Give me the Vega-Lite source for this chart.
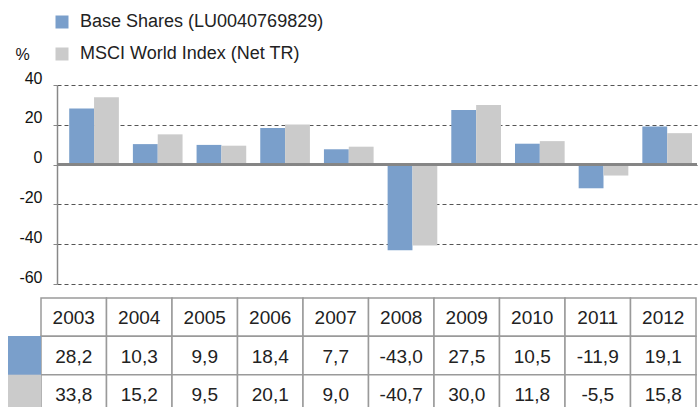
{
  "$schema": "https://vega.github.io/schema/vega-lite/v6.json",
  "width": 640,
  "height": 199,
  "autosize": "none",
  "padding": {"left": 57, "top": 85, "right": 2, "bottom": 123},
  "background": "white",
  "config": {
    "font": "Liberation Sans",
    "view": {"stroke": null},
    "locale": {"number": {"decimal": ",", "thousands": ".", "grouping": [3], "currency": ["", ""], "minus": "-"}},
    "axisY": {
      "titleAngle": 0, "titleX": -35, "titleY": -31, "titleAlign": "center", "titleBaseline": "middle",
      "titleFontSize": 16, "titleFontWeight": "normal", "titleColor": "#111",
      "labelFontSize": 16, "labelColor": "#111", "labelPadding": 11, "labelOffset": -7, "labelOverlap": false,
      "domainColor": "#888", "domainWidth": 1.5, "tickColor": "#888", "tickSize": 4, "tickWidth": 1,
      "gridColor": "#555", "gridDash": [4, 3], "gridWidth": 1
    }
  },
  "datasets": {
    "perf": [
      {"year": "2003", "series": "Base Shares (LU0040769829)", "value": 28.2},
      {"year": "2003", "series": "MSCI World Index (Net TR)", "value": 33.8},
      {"year": "2004", "series": "Base Shares (LU0040769829)", "value": 10.3},
      {"year": "2004", "series": "MSCI World Index (Net TR)", "value": 15.2},
      {"year": "2005", "series": "Base Shares (LU0040769829)", "value": 9.9},
      {"year": "2005", "series": "MSCI World Index (Net TR)", "value": 9.5},
      {"year": "2006", "series": "Base Shares (LU0040769829)", "value": 18.4},
      {"year": "2006", "series": "MSCI World Index (Net TR)", "value": 20.1},
      {"year": "2007", "series": "Base Shares (LU0040769829)", "value": 7.7},
      {"year": "2007", "series": "MSCI World Index (Net TR)", "value": 9.0},
      {"year": "2008", "series": "Base Shares (LU0040769829)", "value": -43.0},
      {"year": "2008", "series": "MSCI World Index (Net TR)", "value": -40.7},
      {"year": "2009", "series": "Base Shares (LU0040769829)", "value": 27.5},
      {"year": "2009", "series": "MSCI World Index (Net TR)", "value": 30.0},
      {"year": "2010", "series": "Base Shares (LU0040769829)", "value": 10.5},
      {"year": "2010", "series": "MSCI World Index (Net TR)", "value": 11.8},
      {"year": "2011", "series": "Base Shares (LU0040769829)", "value": -11.9},
      {"year": "2011", "series": "MSCI World Index (Net TR)", "value": -5.5},
      {"year": "2012", "series": "Base Shares (LU0040769829)", "value": 19.1},
      {"year": "2012", "series": "MSCI World Index (Net TR)", "value": 15.8}
    ]
  },
  "data": {"name": "perf"},
  "layer": [
    {
      "layer": [
        {
          "mark": {"type": "bar"},
          "encoding": {
            "x": {"field": "year", "type": "ordinal", "scale": {"paddingInner": 0.22, "paddingOuter": 0.135, "align": 0.71}, "axis": null},
            "xOffset": {"field": "series", "type": "nominal", "scale": {"domain": ["Base Shares (LU0040769829)", "MSCI World Index (Net TR)"], "paddingInner": 0, "paddingOuter": 0}},
            "y": {
              "field": "value", "type": "quantitative",
              "scale": {"domain": [-60, 40], "nice": false, "zero": false},
              "axis": {"title": "%", "values": [-60, -40, -20, 0, 20, 40], "format": "d", "grid": true}
            },
            "color": {
              "field": "series", "type": "nominal",
              "scale": {"domain": ["Base Shares (LU0040769829)", "MSCI World Index (Net TR)"], "range": ["#7A9FCB", "#CBCBCB"]},
              "legend": {
                "orient": "none", "legendX": -4, "legendY": -72, "title": null, "padding": 0,
                "symbolType": "square", "symbolSize": 169, "symbolStrokeWidth": 0, "symbolOpacity": 1,
                "labelFontSize": 18, "labelColor": "#222", "labelOffset": 9, "rowPadding": 14, "labelLimit": 400
              }
            }
          }
        },
        {
          "mark": {"type": "rule", "color": "#858585", "strokeWidth": 2},
          "encoding": {"y": {"datum": 0, "type": "quantitative", "axis": {"title": "%", "values": [-60, -40, -20, 0, 20, 40], "format": "d", "grid": true}}}
        }
      ]
    },
    {
      "layer": [
        {
          "transform": [{"filter": "datum.series === 'MSCI World Index (Net TR)'"}],
          "mark": {"type": "rect", "fill": "white", "stroke": "#9A9A9A", "strokeWidth": 1.5},
          "encoding": {
            "x": {"field": "year", "type": "ordinal", "scale": {"range": [-16, 639], "paddingInner": 0, "paddingOuter": 0}, "axis": null},
            "y": {"datum": "hdr", "type": "nominal", "scale": {"domain": ["hdr", "Base Shares (LU0040769829)", "MSCI World Index (Net TR)"], "range": [213, 328], "paddingInner": 0, "paddingOuter": 0}, "axis": null}
          }
        },
        {
          "transform": [{"filter": "datum.series === 'MSCI World Index (Net TR)'"}],
          "mark": {"type": "text", "fontSize": 19, "color": "#222", "baseline": "middle", "dy": 1},
          "encoding": {
            "x": {"field": "year", "type": "ordinal", "axis": null},
            "y": {"datum": "hdr", "type": "nominal", "axis": null},
            "text": {"field": "year", "type": "nominal"}
          }
        },
        {
          "mark": {"type": "rect", "fill": "white", "stroke": "#9A9A9A", "strokeWidth": 1.5},
          "encoding": {
            "x": {"field": "year", "type": "ordinal", "axis": null},
            "y": {"field": "series", "type": "nominal", "axis": null}
          }
        },
        {
          "mark": {"type": "text", "fontSize": 19, "color": "#222", "baseline": "middle", "dy": 1},
          "encoding": {
            "x": {"field": "year", "type": "ordinal", "axis": null},
            "y": {"field": "series", "type": "nominal", "axis": null},
            "text": {"field": "value", "type": "quantitative", "format": ".1f"}
          }
        }
      ]
    },
    {
      "mark": {"type": "rect"},
      "encoding": {
        "x": {"datum": "sw", "type": "nominal", "scale": {"domain": ["sw"], "range": [-49, -16], "paddingInner": 0, "paddingOuter": 0}, "axis": null},
        "y": {"field": "series", "type": "nominal", "scale": {"domain": ["hdr", "Base Shares (LU0040769829)", "MSCI World Index (Net TR)"], "range": [213, 328], "paddingInner": 0, "paddingOuter": 0}, "axis": null},
        "color": {"field": "series", "type": "nominal"}
      }
    }
  ],
  "resolve": {"scale": {"x": "independent", "y": "independent"}}
}
